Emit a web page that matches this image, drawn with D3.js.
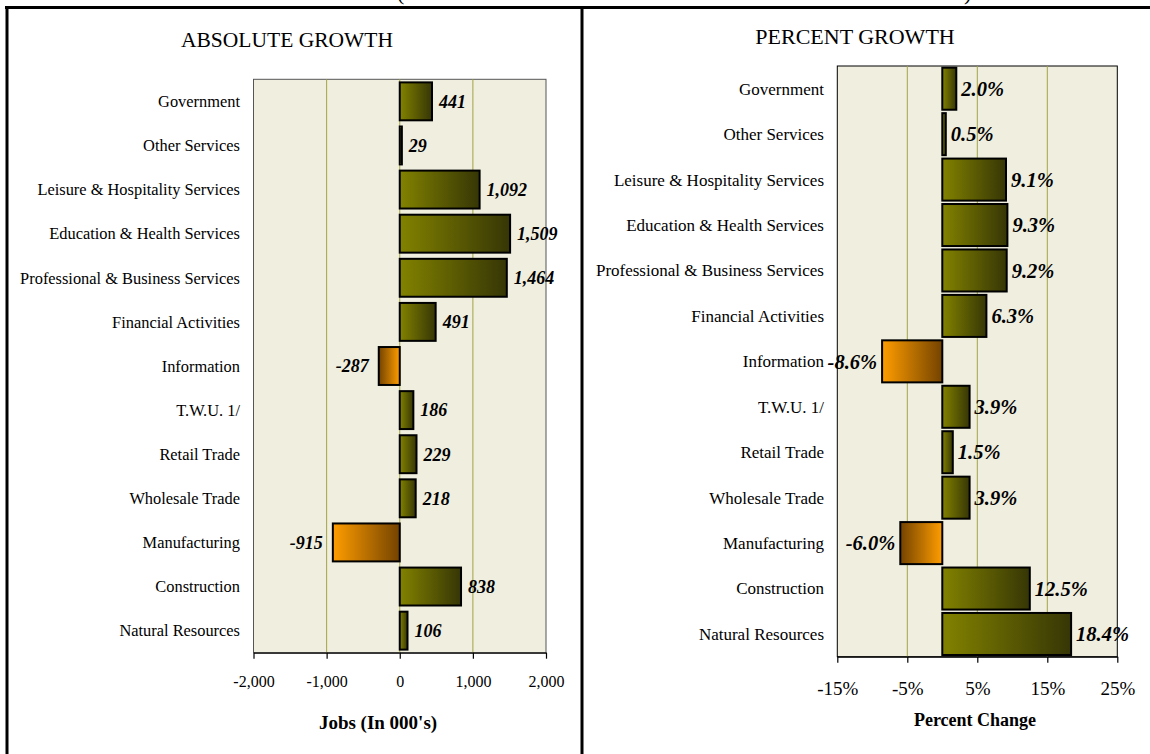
<!DOCTYPE html>
<html>
<head>
<meta charset="utf-8">
<script src="https://cdn.jsdelivr.net/npm/d3@7"></script>
<style>
  html, body { margin: 0; padding: 0; background: #ffffff; }
  svg { display: block; }
  text { font-family: "Liberation Serif", "DejaVu Serif", serif; fill: #000; }
</style>
</head>
<body>
<svg id="chart" width="1150" height="754"></svg>
<script>
// Industry sectors, listed top to bottom
const categories = [
  "Government", "Other Services", "Leisure & Hospitality Services",
  "Education & Health Services", "Professional & Business Services",
  "Financial Activities", "Information", "T.W.U. 1/", "Retail Trade",
  "Wholesale Trade", "Manufacturing", "Construction", "Natural Resources"
];
// Change in jobs, thousands
const absoluteGrowth = [441, 29, 1092, 1509, 1464, 491, -287, 186, 229, 218, -915, 838, 106];
// Change in jobs, percent
const percentGrowth = [2.0, 0.5, 9.1, 9.3, 9.2, 6.3, -8.6, 3.9, 1.5, 3.9, -6.0, 12.5, 18.4];

const absTicks = [-2000, -1000, 0, 1000, 2000];
const pctTicks = [-15, -5, 5, 15, 25];

const svg = d3.select("#chart");
const defs = svg.append("defs");

function gradient(id, from, to) {
  const g = defs.append("linearGradient").attr("id", id)
    .attr("x1", "0%").attr("x2", "100%").attr("y1", "0%").attr("y2", "0%");
  g.append("stop").attr("offset", "0%").attr("stop-color", from);
  g.append("stop").attr("offset", "100%").attr("stop-color", to);
}
gradient("olive", "#828200", "#363606");
gradient("orangeFwd", "#ff9d00", "#744300");
gradient("orangeRev", "#744300", "#ff9d00");

const hyphen = s => s.replace("\u2212", "-");
const fmtComma = d => hyphen(d3.format(",")(d));
const fmtPct1 = d => hyphen(d3.format(".1f")(d)) + "%";
const fmtPct0 = d => hyphen(d3.format("d")(d)) + "%";

function panel(opts) {
  const { values, xDomain, xRange, yRange, padIn, ticks, tickFmt, labelFmt,
          labelX, catSize, valSize, tickSize, tickBaseline, frameColor,
          gridTicks, negFill, valGapPos, valGapNeg } = opts;

  const x = d3.scaleLinear().domain(xDomain).range(xRange);
  const y = d3.scaleBand().domain(categories).range(yRange)
    .paddingInner(padIn).paddingOuter(padIn / 2);

  const g = svg.append("g");

  // plot area
  g.append("rect")
    .attr("x", xRange[0]).attr("y", yRange[0])
    .attr("width", xRange[1] - xRange[0]).attr("height", yRange[1] - yRange[0])
    .attr("fill", "#efeedf").attr("stroke", frameColor).attr("stroke-width", 1);

  // vertical gridlines
  g.selectAll("line.grid").data(gridTicks).join("line")
    .attr("class", "grid")
    .attr("x1", d => x(d)).attr("x2", d => x(d))
    .attr("y1", yRange[0]).attr("y2", yRange[1])
    .attr("stroke", "#a3a348").attr("stroke-width", 1);

  // bottom axis
  const axis = g.append("g")
    .attr("transform", `translate(0,${yRange[1]})`)
    .call(d3.axisBottom(x).tickValues(ticks).tickSize(6).tickSizeOuter(0).tickFormat(tickFmt));
  axis.select(".domain").attr("stroke", "#000").attr("stroke-width", 1.2);
  axis.selectAll(".tick line").attr("stroke", "#000").attr("stroke-width", 1.2);
  axis.selectAll(".tick text")
    .attr("y", tickBaseline - yRange[1]).attr("dy", 0)
    .style("font-size", tickSize + "px")
    .style("font-family", "'Liberation Serif', serif");

  // bars
  const rows = categories.map((c, i) => ({ c, v: values[i] }));
  g.selectAll("rect.bar").data(rows).join("rect")
    .attr("class", "bar")
    .attr("x", d => x(Math.min(0, d.v)))
    .attr("y", d => y(d.c))
    .attr("width", d => Math.abs(x(d.v) - x(0)))
    .attr("height", y.bandwidth())
    .attr("fill", d => d.v >= 0 ? "url(#olive)" : `url(#${negFill[d.c]})`)
    .attr("stroke", "#000").attr("stroke-width", 2);

  // value labels
  g.selectAll("text.val").data(rows).join("text")
    .attr("class", "val")
    .attr("x", d => d.v >= 0 ? x(d.v) + valGapPos : x(d.v) - valGapNeg)
    .attr("y", d => y(d.c) + y.bandwidth() / 2)
    .attr("dy", "0.35em")
    .attr("text-anchor", d => d.v >= 0 ? "start" : "end")
    .style("font-size", valSize + "px")
    .style("font-weight", "bold")
    .style("font-style", "italic")
    .text(d => labelFmt(d.v));

  // category labels
  g.selectAll("text.cat").data(rows).join("text")
    .attr("class", "cat")
    .attr("x", labelX)
    .attr("y", d => y(d.c) + y.bandwidth() / 2)
    .attr("dy", "0.35em")
    .attr("text-anchor", "end")
    .style("font-size", catSize + "px")
    .text(d => d.c);
}

panel({
  values: absoluteGrowth,
  xDomain: [-2000, 2000], xRange: [253.5, 546], yRange: [79.3, 652.7], padIn: 0.14,
  ticks: absTicks, gridTicks: [-1000, 0, 1000], tickFmt: fmtComma, labelFmt: fmtComma,
  labelX: 240, catSize: 16.4, valSize: 18, tickSize: 16, tickBaseline: 687,
  frameColor: "#555", negFill: { "Information": "orangeRev", "Manufacturing": "orangeFwd" },
  valGapPos: 7, valGapNeg: 10
});

panel({
  values: percentGrowth,
  xDomain: [-15, 25], xRange: [837.3, 1117.3], yRange: [66, 656.7], padIn: 0.075,
  ticks: pctTicks, gridTicks: [-5, 5, 15], tickFmt: fmtPct0, labelFmt: fmtPct1,
  labelX: 824, catSize: 17, valSize: 20.5, tickSize: 19, tickBaseline: 695,
  frameColor: "#000", negFill: { "Information": "orangeFwd", "Manufacturing": "orangeRev" },
  valGapPos: 5, valGapNeg: 5
});

// panel titles
svg.append("text").attr("x", 287).attr("y", 47).attr("text-anchor", "middle")
  .style("font-size", "21.5px").text("ABSOLUTE GROWTH");
svg.append("text").attr("x", 855).attr("y", 44).attr("text-anchor", "middle")
  .style("font-size", "22px").text("PERCENT GROWTH");

// axis titles
svg.append("text").attr("x", 378).attr("y", 729).attr("text-anchor", "middle")
  .style("font-size", "19px").style("font-weight", "bold").text("Jobs (In 000's)");
svg.append("text").attr("x", 975).attr("y", 726).attr("text-anchor", "middle")
  .style("font-size", "18px").style("font-weight", "bold").text("Percent Change");

// heading brackets running above the frame
svg.append("text").attr("x", 397).attr("y", 0).style("font-size", "22px").text("(");
svg.append("text").attr("x", 964).attr("y", 0).style("font-size", "22px").text(")");

// outer frame and divider
svg.append("line").attr("x1", 5).attr("x2", 1150).attr("y1", 7.5).attr("y2", 7.5)
  .attr("stroke", "#000").attr("stroke-width", 3);
svg.append("line").attr("x1", 7).attr("x2", 7).attr("y1", 6).attr("y2", 754)
  .attr("stroke", "#000").attr("stroke-width", 3);
svg.append("line").attr("x1", 582).attr("x2", 582).attr("y1", 6).attr("y2", 754)
  .attr("stroke", "#000").attr("stroke-width", 3);
</script>
</body>
</html>
